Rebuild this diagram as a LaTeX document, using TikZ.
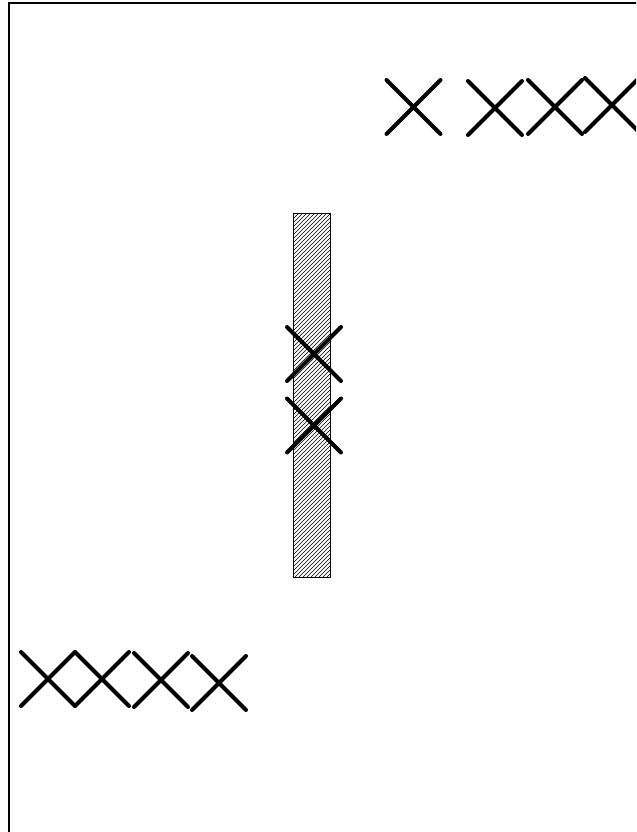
\documentclass[tikz,border=0pt]{standalone}
\usetikzlibrary{patterns}
\tikzset{
  frameline/.style={line width=1.6pt, black},
  crossline/.style={line width=3pt, black, line cap=round},
  hatchbar/.style={draw=black, line width=0.8pt, pattern=north east lines, pattern color=black},
  cross/.pic={\draw[crossline] (-27,-27) -- (27,27) (-27,27) -- (27,-27);}
}
\begin{document}
\begin{tikzpicture}[x=0.75pt,y=-0.75pt]
\useasboundingbox (0,0) rectangle (636,832);
\clip (0,0) rectangle (636,832);
\fill[white] (0,0) rectangle (636,832);
% frame (extends beyond the visible area at right and bottom)
\draw[frameline] (9,900) -- (9,3) -- (700,3);
% hatched bar
\node[hatchbar, minimum width=27.75pt, minimum height=273pt, inner sep=0pt, anchor=north west] (bar) at (293,213) {};
% cross positions
\coordinate (t1) at (413.5,107);
\coordinate (t2) at (495,108);
\coordinate (t3) at (555,107);
\coordinate (t4) at (612,105);
\coordinate (m1) at (314,354);
\coordinate (m2) at (314,425.5);
\coordinate (b1) at (48,679);
\coordinate (b2) at (102,679);
\coordinate (b3) at (161,680);
\coordinate (b4) at (219,683);
\foreach \c in {t1,t2,t3,t4,m1,m2,b1,b2,b3,b4} \pic at (\c) {cross};
\end{tikzpicture}
\end{document}
